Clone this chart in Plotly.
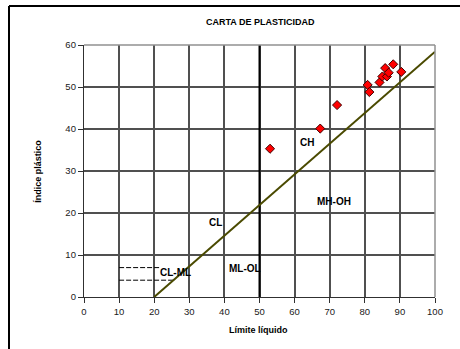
import plotly.graph_objects as go

# Soil samples: liquid limit (LL) vs plasticity index (PI)
sample_ll = [53.0, 67.3, 72.1, 80.8, 81.3, 84.2, 85.0, 85.8, 86.3, 86.8, 88.1, 90.4]
sample_pi = [35.3, 40.1, 45.7, 50.5, 48.8, 51.1, 52.5, 54.5, 52.5, 53.4, 55.4, 53.6]

# Casagrande A-line: PI = 0.73 (LL - 20)
a_line_ll = [20, 100]
a_line_pi = [0, 58.4]

# LL = 50 boundary
b_line_ll = [50, 50]
b_line_pi = [0, 60]

# CL-ML band limits (PI = 4 and PI = 7)
band_low_ll = [10, 25.5]
band_low_pi = [4, 4]
band_high_ll = [10, 21.7]
band_high_pi = [7, 7]

# Zone labels
zone_names = ["CL-ML", "ML-OL", "CL", "CH", "MH-OH"]
zone_ll = [26.0, 45.9, 37.5, 63.5, 71.2]
zone_pi = [5.9, 6.7, 17.8, 36.9, 22.8]

x_ticks = list(range(0, 101, 10))
y_ticks = list(range(0, 61, 10))

FONT = "Liberation Sans, Arial, sans-serif"
AXIS = "#303030"

fig = go.Figure()

fig.add_trace(go.Scatter(x=band_low_ll, y=band_low_pi, mode="lines",
                         line=dict(color="black", width=1, dash="5px,2px"),
                         hoverinfo="skip"))
fig.add_trace(go.Scatter(x=band_high_ll, y=band_high_pi, mode="lines",
                         line=dict(color="black", width=1, dash="5px,2px"),
                         hoverinfo="skip"))
fig.add_trace(go.Scatter(x=b_line_ll, y=b_line_pi, mode="lines",
                         line=dict(color="black", width=2), hoverinfo="skip"))
fig.add_trace(go.Scatter(x=a_line_ll, y=a_line_pi, mode="lines",
                         line=dict(color="#4a4a00", width=2), hoverinfo="skip"))
fig.add_trace(go.Scatter(x=sample_ll, y=sample_pi, mode="markers",
                         marker=dict(symbol="diamond", size=7, color="#ff0000",
                                     line=dict(color="#400000", width=1))))

for name, lx, ly in zip(zone_names, zone_ll, zone_pi):
    fig.add_annotation(x=lx, y=ly, text=f"<b>{name}</b>", showarrow=False,
                       font=dict(family=FONT, size=10, color="black"))

# Chart title and axis titles
fig.add_annotation(xref="paper", yref="paper", x=(260 - 84) / 351, y=(297.3 - 15) / 252.3,
                   text="<b>CARTA DE PLASTICIDAD</b>", showarrow=False,
                   font=dict(family=FONT, size=9, color="black"))
fig.add_annotation(xref="paper", yref="paper", x=(258 - 84) / 351, y=(297.3 - 337.5) / 252.3,
                   text="<b>Límite líquido</b>", showarrow=False,
                   font=dict(family=FONT, size=9, color="black"))
fig.add_annotation(xref="paper", yref="paper", x=(31 - 84) / 351, y=(297.3 - 172) / 252.3,
                   text="<b>Índice plástico</b>", showarrow=False, textangle=-90,
                   font=dict(family=FONT, size=9, color="black"))

# Outer frame (top and left edges) and grey plot-area border
fig.add_shape(type="line", xref="paper", yref="paper",
              x0=(9 - 84) / 351, x1=(470 - 84) / 351,
              y0=(297.3 - 6) / 252.3, y1=(297.3 - 6) / 252.3,
              line=dict(color="black", width=2))
fig.add_shape(type="line", xref="paper", yref="paper",
              x0=(9 - 84) / 351, x1=(9 - 84) / 351,
              y0=(297.3 - 6) / 252.3, y1=(297.3 - 360) / 252.3,
              line=dict(color="black", width=2))
fig.add_shape(type="line", xref="paper", yref="paper", x0=0, x1=1, y0=1, y1=1,
              line=dict(color="#909090", width=1.5))
fig.add_shape(type="line", xref="paper", yref="paper", x0=1, x1=1, y0=0, y1=1,
              line=dict(color="#909090", width=1.5))

axis_common = dict(showgrid=True, gridcolor="#505050", gridwidth=2, zeroline=False,
                   showline=True, linecolor=AXIS, linewidth=1.3,
                   ticks="outside", ticklen=5, tickcolor=AXIS, tickwidth=1.3,
                   tickfont=dict(family=FONT, size=9.5, color="#202020"))

fig.update_layout(
    width=460, height=349,
    margin=dict(l=84, r=25, t=45, b=52),
    paper_bgcolor="white", plot_bgcolor="white",
    showlegend=False,
    xaxis=dict(range=[0, 100], dtick=10, **axis_common),
    yaxis=dict(range=[0, 60], dtick=10, **axis_common),
)

fig.write_html("out.html")
